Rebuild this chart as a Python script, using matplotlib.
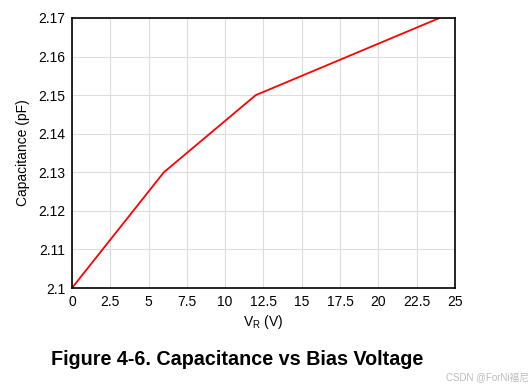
import matplotlib.pyplot as plt

# Kapazität über Sperrspannung
v_r = [0, 6, 12, 24]
cap = [2.10, 2.13, 2.15, 2.17]
x_ticks = [0, 2.5, 5, 7.5, 10, 12.5, 15, 17.5, 20, 22.5, 25]
x_labels = ['0', '2.5', '5', '7.5', '10', '12.5', '15', '17.5', '20', '22.5', '25']
y_ticks = [2.10, 2.11, 2.12, 2.13, 2.14, 2.15, 2.16, 2.17]
y_labels = ['2.1', '2.11', '2.12', '2.13', '2.14', '2.15', '2.16', '2.17']

plt.rcParams['font.family'] = ['Liberation Sans', 'DejaVu Sans']

fig = plt.figure(figsize=(5.32, 3.87), dpi=100)
ax = fig.add_axes([0.1353, 0.2558, 0.7197, 0.6977])
ax.plot(v_r, cap, color='#ff0000', linewidth=1.3)
ax.set_xlim(0, 25)
ax.set_ylim(2.10, 2.17)
ax.set_xticks(x_ticks)
ax.set_xticklabels(x_labels)
ax.set_yticks(y_ticks)
ax.set_yticklabels(y_labels)
ax.tick_params(length=0, labelsize=10, pad=5)
ax.grid(True, color='#dddddd', linewidth=0.8)
for s in ax.spines.values():
    s.set_linewidth(1.2)
ax.set_xlabel('V$_\\mathregular{R}$ (V)', fontsize=10, labelpad=3)
ax.set_ylabel('Capacitance (pF)', fontsize=10, labelpad=6)

fig.text(0.446, 0.07, 'Figure 4-6. Capacitance vs Bias Voltage', ha='center',
         va='center', fontsize=14.2, fontweight='bold')
fig.text(0.995, 0.015, 'CSDN @ForNi福尼', ha='right', fontsize=7, color='#bbbbbb',
         family=['Liberation Sans', 'Noto Sans CJK SC'])

fig.savefig('out.png', dpi=100)
